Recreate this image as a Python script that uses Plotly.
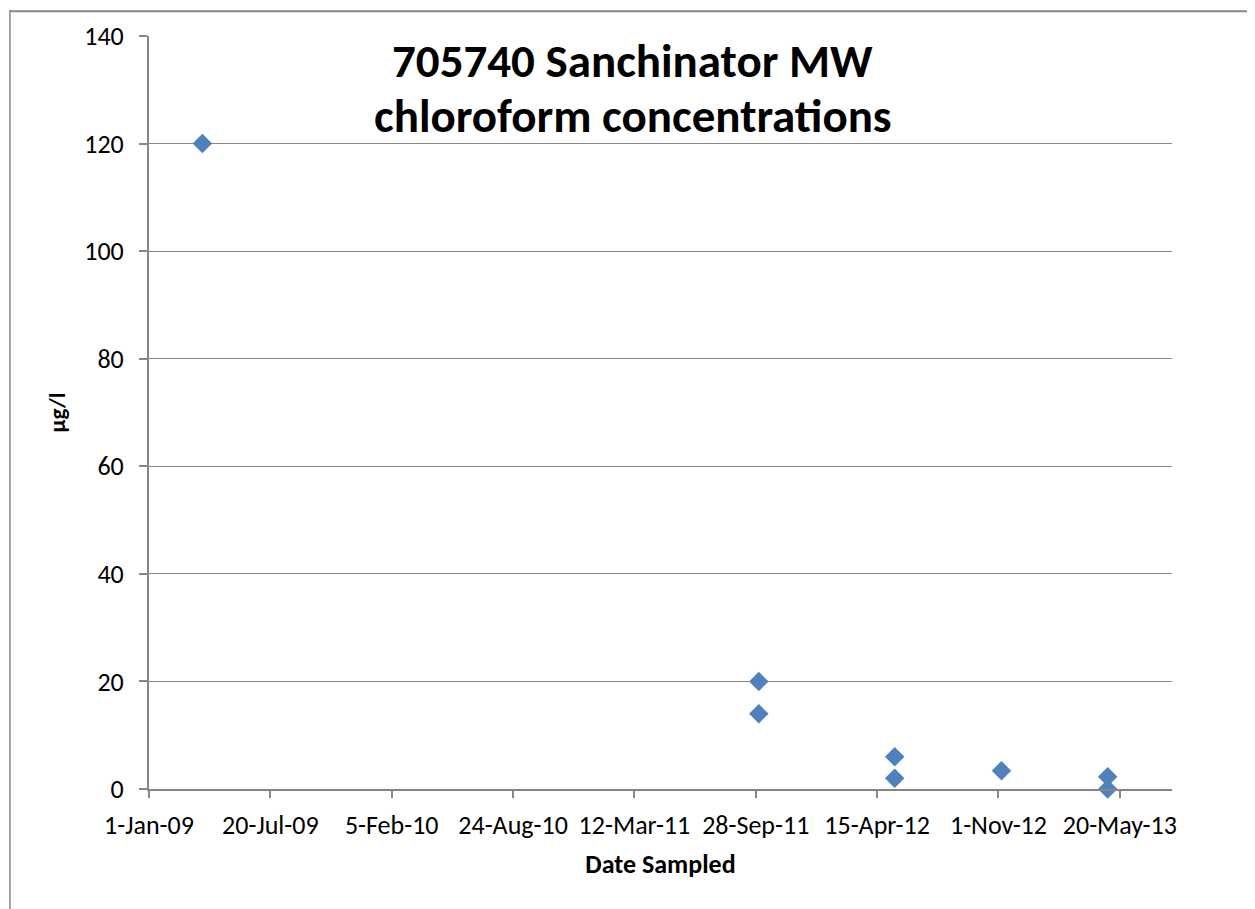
import plotly.graph_objects as go

# Sample dates and chloroform results (ug/l)
sample_dates = ['2009-03-30',
                '2011-10-03', '2011-10-03',
                '2012-05-14', '2012-05-14',
                '2012-11-06',
                '2013-04-30', '2013-04-30']
chloroform = [120, 20, 14, 6, 2, 3.4, 2.3, 0]

title_lines = ['705740 Sanchinator MW', 'chloroform concentrations']

font_family = "Carlito, Calibri, Lato, sans-serif"
grey = '#868686'

fig = go.Figure()

fig.add_trace(go.Scatter(
    x=sample_dates, y=chloroform,
    mode='markers',
    marker=dict(symbol='diamond', size=15, color='#4F81BD'),
    cliponaxis=False,
    showlegend=False
))

# outer chart-area border (runs off the right and bottom edges)
fig.add_shape(type='line', xref='paper', yref='paper',
              x0=-0.1359, x1=-0.1359, y0=-0.17, y1=1.035,
              line=dict(color=grey, width=1.5))
fig.add_shape(type='line', xref='paper', yref='paper',
              x0=-0.1359, x1=1.09, y0=1.033, y1=1.033,
              line=dict(color=grey, width=2))

# title drawn line by line to get Excel's tighter line spacing
for i, line in enumerate(title_lines):
    fig.add_annotation(
        text='<b>' + line + '</b>',
        xref='paper', yref='paper', x=0.473, y=0.967 - i * 0.073,
        yanchor='middle', xanchor='center',
        showarrow=False, font=dict(size=47, color='black', family=font_family),
    )

# page body has an 8px margin, so the figure is shrunk by 8px
fig.update_layout(
    width=1247, height=901,
    margin=dict(l=141, r=83, t=28, b=120),
    plot_bgcolor='white', paper_bgcolor='white',
    font=dict(family=font_family, size=26, color='black'),
    xaxis=dict(
        type='date',
        range=['2009-01-01', '2013-08-14'],
        tick0='2009-01-01', dtick=200 * 86400000,
        tickformat='%-d-%b-%y',
        showgrid=False, zeroline=False,
        showline=True, linecolor=grey, linewidth=2,
        ticks='outside', ticklen=7, tickcolor=grey, tickwidth=2,
        tickfont=dict(size=26), ticklabelstandoff=5,
        title=dict(text='<b>Date Sampled</b>', font=dict(size=26), standoff=15),
    ),
    yaxis=dict(
        range=[0, 140], dtick=20,
        showgrid=True, gridcolor=grey, gridwidth=1.3,
        zeroline=False,
        showline=True, linecolor=grey, linewidth=2,
        ticks='outside', ticklen=8, tickcolor=grey, tickwidth=2,
        tickfont=dict(size=26), ticklabelstandoff=10,
        title=dict(text='<b>µg/l</b>', font=dict(size=23), standoff=12),
    ),
)

fig.write_html("out.html")
